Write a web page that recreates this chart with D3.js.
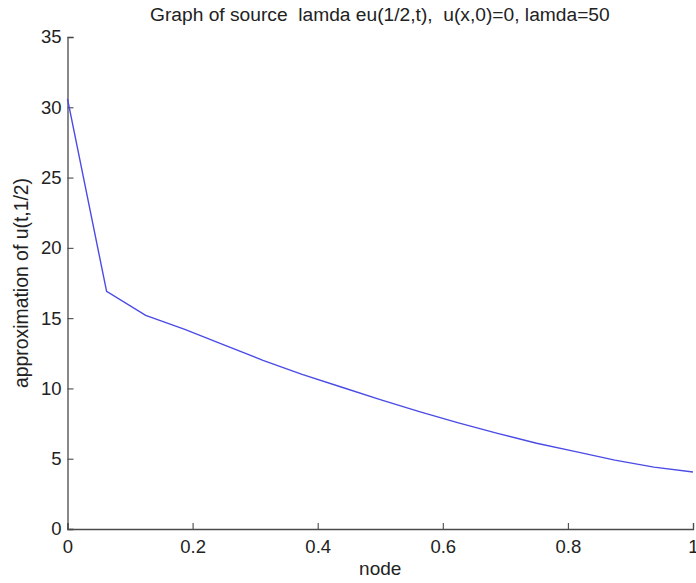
<!DOCTYPE html>
<html>
<head>
<meta charset="utf-8">
<script src="https://cdn.jsdelivr.net/npm/d3@7"></script>
<style>
  body { margin: 0; background: #fff; }
  svg { display: block; font-family: "Liberation Sans", Arial, sans-serif; }
</style>
</head>
<body>
<svg id="chart"></svg>
<script>
// node positions (17 nodes, h = 1/16) and approximated u(t,1/2)
const nodes = d3.range(17).map(i => i / 16);
const uValues = [30.6, 16.9, 15.2, 14.2, 13.1, 12.0, 11.0, 10.1, 9.2, 8.35, 7.55, 6.8, 6.1, 5.5, 4.9, 4.4, 4.05];
const xTicks = [0, 0.2, 0.4, 0.6, 0.8, 1];
const yTicks = [0, 5, 10, 15, 20, 25, 30, 35];

const titleText = "Graph of source  lamda eu(1/2,t),  u(x,0)=0, lamda=50";
const xLabel = "node";
const yLabel = "approximation of u(t,1/2)";

const width = 696;
const height = 583;
const margin = { top: 37, right: 3, bottom: 54, left: 67.5 };
const chartWidth = width - margin.left - margin.right;
const chartHeight = height - margin.top - margin.bottom;

const svg = d3.select("#chart")
  .attr("width", width)
  .attr("height", height);

const g = svg.append("g")
  .attr("transform", `translate(${margin.left},${margin.top})`);

const xScale = d3.scaleLinear().domain([0, 1]).range([0, chartWidth]);
const yScale = d3.scaleLinear().domain([0, 35]).range([chartHeight, 0]);

const axisColor = "#4a4a4a";
const textColor = "#222";

// x axis, ticks pointing inward like matlab
const xAxis = g.append("g")
  .attr("transform", `translate(0,${chartHeight})`)
  .call(d3.axisBottom(xScale).tickValues(xTicks).tickSize(-6).tickPadding(11)
    .tickFormat(d => d === 0 || d === 1 ? d3.format("d")(d) : d3.format(".1f")(d)));

// y axis
const yAxis = g.append("g")
  .call(d3.axisLeft(yScale).tickValues(yTicks).tickSize(-6).tickPadding(6));

[xAxis, yAxis].forEach(ax => {
  ax.select(".domain").attr("stroke", axisColor).attr("stroke-width", 1.3);
  ax.selectAll(".tick line").attr("stroke", axisColor).attr("stroke-width", 1.1);
  ax.selectAll(".tick text")
    .attr("fill", textColor)
    .style("font-size", "18.5px")
    .style("font-family", "'Liberation Sans', Arial, sans-serif");
});

// curve
const line = d3.line()
  .x((d, i) => xScale(nodes[i]))
  .y(d => yScale(d));

g.append("path")
  .datum(uValues)
  .attr("d", line)
  .attr("fill", "none")
  .attr("stroke", "#4b4be6")
  .attr("stroke-width", 1.4);

// title (keep the double spaces)
svg.append("text")
  .attr("x", 150)
  .attr("y", 21)
  .attr("fill", textColor)
  .style("font-size", "19.2px")
  .style("white-space", "pre")
  .attr("xml:space", "preserve")
  .text(titleText);

// x label
svg.append("text")
  .attr("x", margin.left + chartWidth / 2)
  .attr("y", 575)
  .attr("text-anchor", "middle")
  .attr("fill", textColor)
  .style("font-size", "19px")
  .text(xLabel);

// y label
svg.append("text")
  .attr("transform", `translate(28,${margin.top + chartHeight / 2}) rotate(-90)`)
  .attr("text-anchor", "middle")
  .attr("fill", textColor)
  .style("font-size", "19.4px")
  .text(yLabel);
</script>
</body>
</html>
